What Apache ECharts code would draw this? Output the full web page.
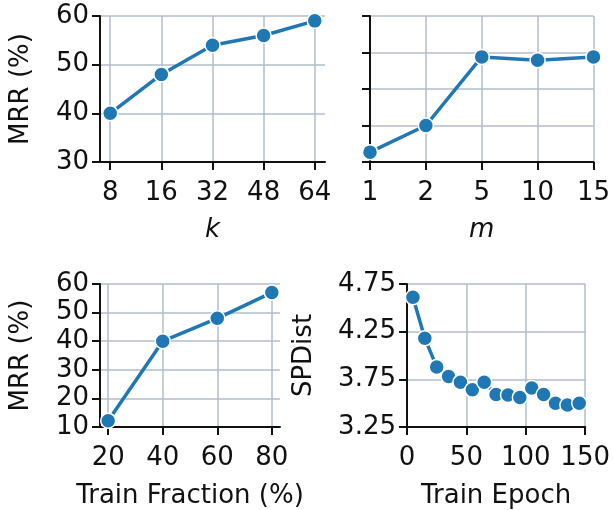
<!DOCTYPE html>
<html>
<head>
<meta charset="utf-8">
<script src="https://cdn.jsdelivr.net/npm/echarts@6/dist/echarts.min.js"></script>
<style>
  html, body { margin: 0; padding: 0; background: #fff; }
  #chart { width: 613px; height: 510px; }
</style>
</head>
<body>
<div id="chart"></div>
<script>
// k sweep
const kLabels = ['8', '16', '32', '48', '64'];
const kMrr = [40, 48, 54, 56, 59];

// m sweep
const mLabels = ['1', '2', '5', '10', '15'];
const mMrr = [32.7, 40, 58.8, 57.9, 58.8];

// train fraction
const fracX = [20, 40, 60, 80];
const fracMrr = [12.2, 40, 48, 57];

// train epoch
const epochX = [5, 15, 25, 35, 45, 55, 65, 75, 85, 95, 105, 115, 125, 135, 145];
const epochDist = [4.61, 4.18, 3.88, 3.78, 3.72, 3.64, 3.72, 3.59, 3.585, 3.56, 3.66, 3.59, 3.50, 3.48, 3.50];

const FONT = 'DejaVu Sans';
const FS = 26;
const INK = '#111';
const GRID = '#b0bccb';
const BLUE = '#1f77b4';

const chart = echarts.init(document.getElementById('chart'));

function label(extra) {
  return Object.assign({ color: INK, fontFamily: FONT, fontSize: FS, margin: 18 }, extra);
}

function tick(extra) {
  return Object.assign({ show: true, length: 8, lineStyle: { color: INK, width: 2 } }, extra);
}

function axisBase(extra) {
  return Object.assign({
    axisLine: { show: true, onZero: false, lineStyle: { color: INK, width: 2 } },
    axisTick: tick(),
    axisLabel: label(),
    splitLine: { show: true, lineStyle: { color: GRID, width: 1.5 } },
    nameTextStyle: { color: INK, fontFamily: FONT, fontSize: FS },
    nameLocation: 'middle'
  }, extra);
}

function lineSeries(i, data) {
  return {
    type: 'line',
    xAxisIndex: i,
    yAxisIndex: i,
    data: data,
    symbol: 'circle',
    symbolSize: 15,
    lineStyle: { color: BLUE, width: 3.5 },
    itemStyle: { color: BLUE, borderColor: '#fff', borderWidth: 1.5 },
    clip: false,
    animation: false
  };
}

const idx = [0, 1, 2, 3, 4];
const italicName = { color: INK, fontFamily: FONT, fontSize: FS, fontStyle: 'italic' };

const option = {
  animation: false,
  grid: [
    { left: 100, top: 16, width: 225, height: 146 },
    { left: 370, top: 16, width: 226, height: 146 },
    { left: 100, top: 284, width: 180, height: 144 },
    { left: 407, top: 284, width: 181, height: 144 }
  ],
  xAxis: [
    axisBase({
      gridIndex: 0, type: 'value', min: -0.2, max: 4.2,
      name: 'k', nameGap: 55, nameTextStyle: italicName,
      axisTick: tick({ customValues: idx }),
      axisLabel: label({ customValues: idx, formatter: v => kLabels[Math.round(v)] })
    }),
    axisBase({
      gridIndex: 1, type: 'value', min: 0, max: 4, interval: 1,
      name: 'm', nameGap: 55, nameTextStyle: italicName,
      axisLabel: label({ formatter: v => mLabels[Math.round(v)] })
    }),
    axisBase({
      gridIndex: 2, type: 'value', min: 17, max: 83,
      name: 'Train Fraction (%)', nameGap: 56,
      axisTick: tick({ customValues: fracX }),
      axisLabel: label({ customValues: fracX })
    }),
    axisBase({
      gridIndex: 3, type: 'value', min: 0, max: 150, interval: 50,
      name: 'Train Epoch', nameGap: 56,
      axisLabel: label({ showMaxLabel: true })
    })
  ],
  yAxis: [
    axisBase({ gridIndex: 0, type: 'value', min: 30, max: 60, interval: 10,
      name: 'MRR (%)', nameGap: 66, axisLabel: label({ margin: 11 }) }),
    axisBase({ gridIndex: 1, type: 'value', min: 30, max: 70, interval: 10,
      axisLabel: { show: false } }),
    axisBase({ gridIndex: 2, type: 'value', min: 10, max: 60, interval: 10,
      name: 'MRR (%)', nameGap: 66, axisLabel: label({ margin: 11 }) }),
    axisBase({ gridIndex: 3, type: 'value', min: 3.25, max: 4.75, interval: 0.5,
      name: 'SPDist', nameGap: 90,
      axisLabel: label({ margin: 11, formatter: v => v.toFixed(2) }) })
  ],
  series: [
    lineSeries(0, kMrr.map((v, i) => [i, v])),
    lineSeries(1, mMrr.map((v, i) => [i, v])),
    lineSeries(2, fracMrr.map((v, i) => [fracX[i], v])),
    lineSeries(3, epochDist.map((v, i) => [epochX[i], v]))
  ]
};

chart.setOption(option);
</script>
</body>
</html>
